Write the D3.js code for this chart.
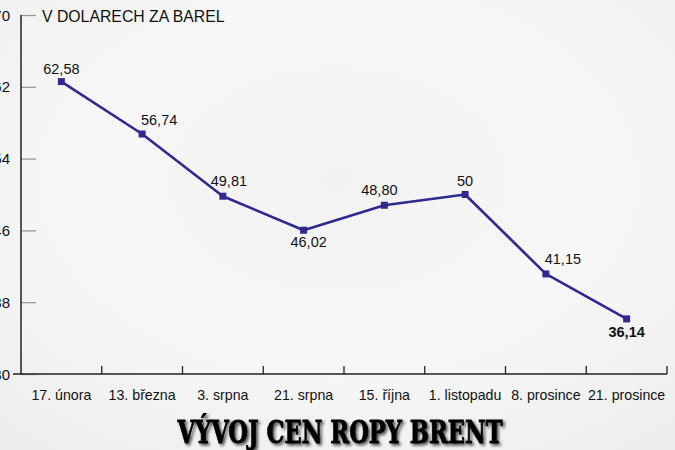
<!DOCTYPE html>
<html><head><meta charset="utf-8">
<script src="https://cdn.jsdelivr.net/npm/d3@7"></script>
<style>
html,body{margin:0;padding:0;background:#f4f4f4;}
svg{display:block;}
</style></head>
<body>
<script>
const categories = ["17. února","13. března","3. srpna","21. srpna","15. října","1. listopadu","8. prosince","21. prosince"];
const prices = [62.58, 56.74, 49.81, 46.02, 48.80, 50, 41.15, 36.14];
const valueLabels = ["62,58","56,74","49,81","46,02","48,80","50","41,15","36,14"];
const yTicks = [30, 38, 46, 54, 62, 70];
const unitTitle = "V DOLARECH ZA BAREL";
const chartTitle = "VÝVOJ CEN ROPY BRENT";

// label layout (dx, dy relative to point; bold flag)
const labelLayout = [
  {dx:0, dy:-8}, {dx:17, dy:-9}, {dx:6, dy:-10}, {dx:5, dy:17},
  {dx:-5, dy:-10}, {dx:0, dy:-9}, {dx:17, dy:-10}, {dx:0, dy:18, bold:true}
];

const W = 675, H = 450;
const svg = d3.select("body").append("svg").attr("width", W).attr("height", H);

const defs = svg.append("defs");
const g1 = defs.append("radialGradient").attr("id","bg").attr("cx","50%").attr("cy","40%").attr("r","75%");
g1.append("stop").attr("offset","0%").attr("stop-color","#f2f2f2");
g1.append("stop").attr("offset","50%").attr("stop-color","#f7f7f7");
g1.append("stop").attr("offset","100%").attr("stop-color","#eeeeee");
const f = defs.append("filter").attr("id","sh").attr("x","-10%").attr("y","-30%").attr("width","120%").attr("height","160%");
f.append("feGaussianBlur").attr("in","SourceAlpha").attr("stdDeviation",1.6).attr("result","b");
f.append("feOffset").attr("in","b").attr("dx",1.5).attr("dy",1.5).attr("result","o");
f.append("feComponentTransfer").attr("in","o").attr("result","o2").append("feFuncA").attr("type","linear").attr("slope",0.7);
const m = f.append("feMerge"); m.append("feMergeNode").attr("in","o2"); m.append("feMergeNode").attr("in","SourceGraphic");

svg.append("rect").attr("width",W).attr("height",H).attr("fill","url(#bg)");

const x = d3.scaleBand().domain(categories).range([21, 667]);
const y = d3.scaleLinear().domain([30, 70]).range([374, 15]);
const FONT = "Liberation Sans, Arial, Helvetica, sans-serif";

// y axis
const ya = svg.append("g").attr("transform","translate(21,0)")
  .call(d3.axisRight(y).tickValues(yTicks).tickSize(15).tickFormat(""));
ya.select(".domain").remove();
ya.selectAll(".tick line").attr("stroke","#9a9a9a").attr("stroke-width",1.3);
svg.append("line").attr("x1",21).attr("x2",21).attr("y1",y(70)).attr("y2",y(30))
  .attr("stroke","#222").attr("stroke-width",1.5);
svg.selectAll(".ylab").data(yTicks).join("text")
  .attr("x",10).attr("y",d=>y(d)+5.5).attr("text-anchor","end")
  .attr("font-family",FONT).attr("font-size",15).attr("fill","#111")
  .text(d=>d);

// x axis
svg.append("line").attr("x1",13).attr("x2",667).attr("y1",374).attr("y2",374)
  .attr("stroke","#222").attr("stroke-width",1.5);
const bounds = categories.map(c=>x(c)+x.bandwidth());
svg.selectAll(".xt").data(bounds).join("line")
  .attr("x1",d=>d).attr("x2",d=>d).attr("y1",366).attr("y2",374)
  .attr("stroke","#222").attr("stroke-width",1.3);
svg.selectAll(".xlab").data(categories).join("text")
  .attr("x",d=>x(d)+x.bandwidth()/2).attr("y",400).attr("text-anchor","middle")
  .attr("font-family",FONT).attr("font-size",14.2).attr("fill","#111")
  .text(d=>d);

// unit title
svg.append("text").attr("x",42).attr("y",21.5)
  .attr("font-family",FONT).attr("font-size",15.8).attr("fill","#111")
  .text(unitTitle);

// line
const cx = d=>x(d)+x.bandwidth()/2;
const line = d3.line().x((d,i)=>cx(categories[i])).y(d=>y(d));
svg.append("path").datum(prices).attr("d",line).attr("fill","none")
  .attr("stroke","#2f2a8e").attr("stroke-width",2.6).attr("stroke-linejoin","round");
svg.selectAll(".pt").data(prices).join("rect")
  .attr("x",(d,i)=>cx(categories[i])-3.5).attr("y",d=>y(d)-3.5)
  .attr("width",7).attr("height",7).attr("fill","#2f2a8e");

svg.selectAll(".vl").data(prices).join("text")
  .attr("x",(d,i)=>cx(categories[i])+labelLayout[i].dx)
  .attr("y",(d,i)=>y(d)+labelLayout[i].dy)
  .attr("text-anchor","middle")
  .attr("font-family",FONT).attr("font-size",14.5)
  .attr("font-weight",(d,i)=>labelLayout[i].bold?"bold":"normal")
  .attr("fill","#111")
  .text((d,i)=>valueLabels[i]);

// bottom title
svg.append("text").attr("x",340).attr("y",443).attr("text-anchor","middle")
  .attr("font-family","DejaVu Serif, serif").attr("font-weight","bold").attr("font-size",31)
  .attr("textLength",325).attr("lengthAdjust","spacingAndGlyphs")
  .attr("fill","#000").attr("stroke","#000").attr("stroke-width",0.8)
  .attr("filter","url(#sh)")
  .text(chartTitle);
</script>
</body></html>
